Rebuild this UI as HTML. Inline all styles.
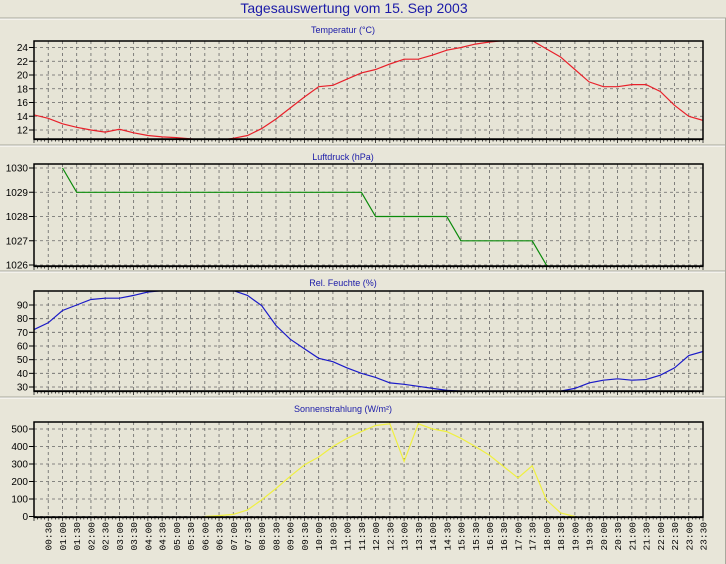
<!DOCTYPE html>
<html><head><meta charset="utf-8"><style>
body{margin:0;background:#e8e6d9;}
svg{display:block;font-family:"Liberation Sans",sans-serif;}
</style></head><body>
<svg id="c" width="726" height="564" xmlns="http://www.w3.org/2000/svg"></svg>
<script>
const times=[];for(let i=0;i<48;i++){times.push(String(Math.floor(i/2)).padStart(2,'0')+':'+(i%2?'30':'00'));}
const temperature=[14.2,13.7,12.9,12.4,12.0,11.7,12.1,11.6,11.2,11.0,10.9,10.7,10.5,10.5,10.8,11.2,12.2,13.6,15.2,16.8,18.3,18.5,19.4,20.3,20.8,21.6,22.3,22.3,22.9,23.6,24.0,24.5,24.8,25.0,25.1,25.0,23.8,22.6,20.8,19.0,18.3,18.3,18.6,18.6,17.6,15.6,14.0,13.4];
const pressure=[null,null,1030,1029,1029,1029,1029,1029,1029,1029,1029,1029,1029,1029,1029,1029,1029,1029,1029,1029,1029,1029,1029,1029,1028,1028,1028,1028,1028,1028,1027,1027,1027,1027,1027,1027,1026,1025.5,1025.5,1025.5,1025.5,1025.5,1025.5,1025.5,1025.5,1025.5,1025.5,1025.5];
const humidity=[72,77,86,90,94,95,95,97,99.5,100.5,101,101,101,101,100.5,97,89.5,75,65,58,51,48.5,44,40,37,33,32,30.5,29,27.5,27,25.5,25,25,25,25,25,27,29,33,35,36,35,35.5,38.6,44,53,56];
const solar=[null,null,null,null,null,null,null,null,null,null,null,null,0,5,12,38,95,160,230,295,340,400,447,485,520,530,315,530,500,485,447,400,350,285,220,290,95,20,0,null,null,null,null,null,null,null,null,null];
const tempTicks=[12,14,16,18,20,22,24];
const pressTicks=[1026,1027,1028,1029,1030];
const humTicks=[30,40,50,60,70,80,90];
const solarTicks=[0,100,200,300,400,500];

const svg=document.getElementById('c');const NS='http://www.w3.org/2000/svg';
function el(t,a,p){const e=document.createElementNS(NS,t);for(const k in a)e.setAttribute(k,a[k]);(p||svg).appendChild(e);return e;}
const X0=34,X1=703,N=47;
function xs(i){return X0+(X1-X0)*i/N;}

const title=el('text',{x:354,y:13,'text-anchor':'middle','font-size':14,fill:'#1a1aa8'});title.textContent='Tagesauswertung vom 15. Sep 2003';


[18,145,271,397].forEach(y=>{el('line',{x1:0,x2:726,y1:y,y2:y,stroke:'#a8a89c','stroke-width':1});el('line',{x1:0,x2:726,y1:y+1,y2:y+1,stroke:'#fff','stroke-width':1});});
el('line',{x1:725.5,x2:725.5,y1:18,y2:564,stroke:'#a8a89c'});

const panels=[
 {name:'temperature',title:'Temperatur (°C)',ty:33,top:41,bot:139,v1:24,y1:47.5,v2:12,y2:130,data:temperature,ticks:tempTicks,color:'#e8202a'},
 {name:'pressure',title:'Luftdruck (hPa)',ty:160,top:164,bot:266,v1:1030,y1:168,v2:1026,y2:265,data:pressure,ticks:pressTicks,color:'#0a8a0a'},
 {name:'humidity',title:'Rel. Feuchte (%)',ty:286,top:291,bot:391,v1:90,y1:305,v2:30,y2:387,data:humidity,ticks:humTicks,color:'#1a1ac8'},
 {name:'solar',title:'Sonnenstrahlung (W/m²)',ty:412,top:422,bot:517,v1:500,y1:429,v2:0,y2:516.5,data:solar,ticks:solarTicks,color:'#f0f040'}
];
panels.forEach((p,pi)=>{
 const g=el('g',{});
 
 
 const ys=v=>p.y2+(v-p.v2)*(p.y1-p.y2)/(p.v1-p.v2);
 const t=el('text',{x:343,y:p.ty,'text-anchor':'middle','font-size':9,fill:'#1a1aa8'},g);t.textContent=p.title;
 
 
 el('rect',{x:X0,y:p.top,width:X1-X0,height:p.bot-p.top,fill:'#e6e4d6'},g);
 for(let i=1;i<N;i++){el('line',{x1:xs(i),x2:xs(i),y1:p.top,y2:p.bot,stroke:'#666','stroke-width':0.8,'stroke-dasharray':'3,3'},g);}
 p.ticks.forEach(v=>{const y=ys(v);
  el('line',{x1:X0,x2:X1,y1:y,y2:y,stroke:'#666','stroke-width':0.8,'stroke-dasharray':'3,3'},g);
  el('line',{x1:29,x2:X0,y1:y,y2:y,stroke:'#000'},g);
  const l=el('text',{x:28,y:y+3.5,'text-anchor':'end','font-size':10,fill:'#000'},g);l.textContent=v;
  
  
 });
 for(let i=0;i<=N*4;i++){const x=X0+(X1-X0)*i/(N*4);el('line',{x1:x,x2:x,y1:p.bot,y2:p.bot+(i%4==0?4:2.5),stroke:'#000','stroke-width':0.7},g);}
 const cid='clip'+pi;const cp=el('clipPath',{id:cid},g);el('rect',{x:X0,y:p.top,width:X1-X0,height:p.bot-p.top},cp);
 let d='';let pen=false;
 p.data.forEach((v,i)=>{if(v===null){pen=false;return;}d+=(pen?'L':'M')+xs(i).toFixed(1)+','+ys(v).toFixed(1);pen=true;});
 const line=el('path',{d:d,fill:'none',stroke:p.color,'stroke-width':1.2,'clip-path':'url(#'+cid+')'},g);
 
 
 el('rect',{x:X0,y:p.top,width:X1-X0,height:p.bot-p.top,fill:'none',stroke:'#000','stroke-width':1.5},g);
 el('line',{x1:X0-0.5,x2:X1+0.5,y1:p.bot+0.5,y2:p.bot+0.5,stroke:'#000','stroke-width':1.2},g);
});
for(let i=1;i<=N;i++){
 const t=el('text',{transform:'translate('+(xs(i)+3.5)+',522) rotate(-90)','text-anchor':'end','font-size':9.5,'font-family':'Liberation Mono, monospace',fill:'#000'});
 t.textContent=times[i];
 
 
}
</script>
</body></html>
